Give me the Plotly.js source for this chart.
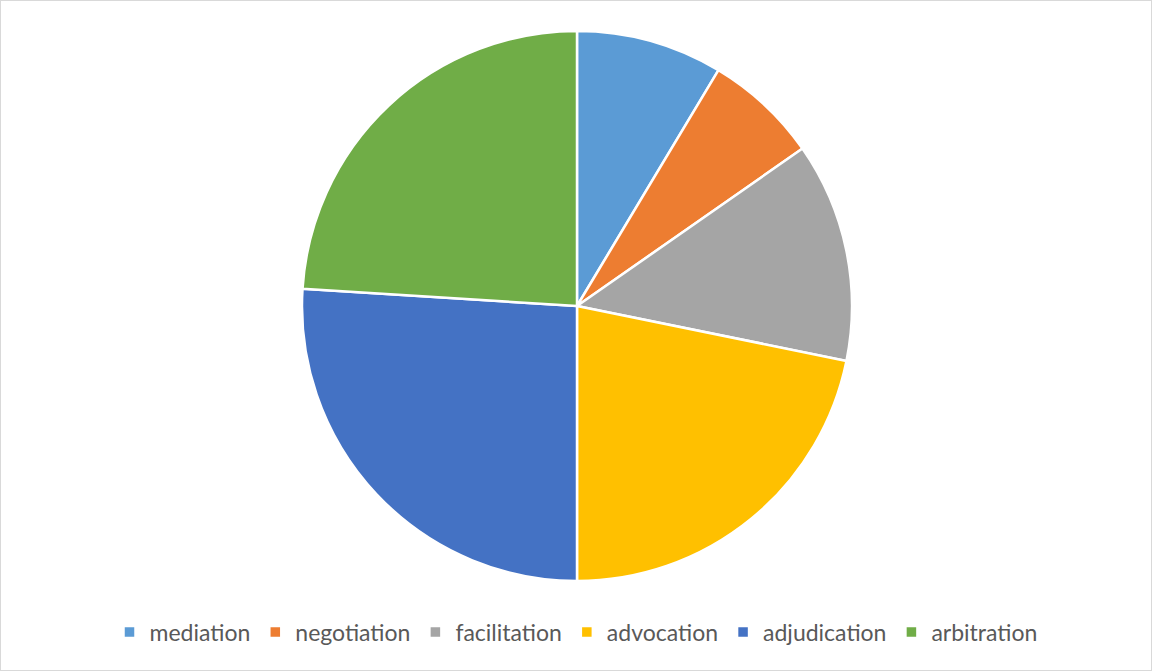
<!DOCTYPE html>
<html>
<head>
<meta charset="utf-8">
<script src="https://cdn.plot.ly/plotly-3.0.1.min.js"></script>
<style>
html,body{margin:0;padding:0;background:#fff;}
#chart{width:1152px;height:671px;box-sizing:border-box;border:1px solid #d9d9d9;}
</style>
</head>
<body>
<div id="chart"></div>
<script>
const categories = ["mediation", "negotiation", "facilitation", "advocation", "adjudication", "arbitration"];
const values = [8.6, 6.7, 12.9, 21.8, 26.0, 24.0];
const colors = ["#5B9BD5", "#ED7D31", "#A5A5A5", "#FFC000", "#4472C4", "#70AD47"];

const W = 1150, H = 669;
const cx = 576, cy = 305, r = 275;

const trace = {
  type: "pie",
  labels: categories,
  values: values,
  sort: false,
  direction: "clockwise",
  rotation: 0,
  textinfo: "none",
  hoverinfo: "label+value",
  marker: { colors: colors, line: { color: "#ffffff", width: 2.5 } },
  domain: { x: [(cx - r) / W, (cx + r) / W], y: [1 - (cy + r) / H, 1 - (cy - r) / H] }
};

const layout = {
  width: W, height: H,
  margin: { l: 0, r: 0, t: 0, b: 0 },
  paper_bgcolor: "#ffffff",
  showlegend: true,
  legend: {
    orientation: "h",
    x: 0.5, xanchor: "center",
    y: 1 - 631 / H, yanchor: "middle",
    font: { family: "Lato, 'Open Sans', sans-serif", size: 23, color: "#595959" },
    itemwidth: 30,
    traceorder: "normal"
  }
};

Plotly.newPlot("chart", [trace], layout, { displayModeBar: false, staticPlot: true });
</script>
</body>
</html>
